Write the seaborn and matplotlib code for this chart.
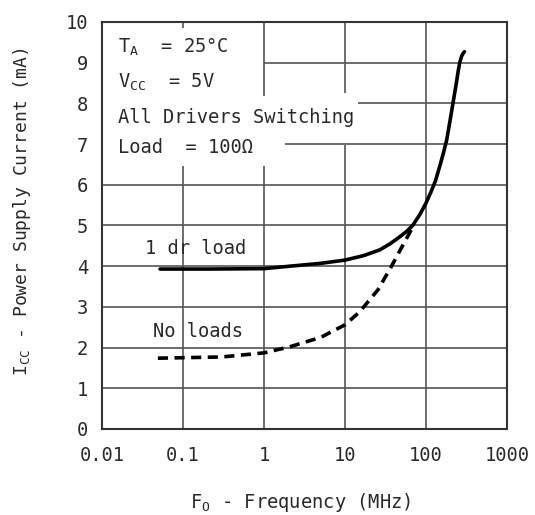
import numpy as np
import pandas as pd
import matplotlib
matplotlib.use("Agg")
import matplotlib.pyplot as plt
import seaborn as sns

# 1 driver loaded
freq_load = [0.052, 0.2, 1, 2.08, 5, 10, 17, 26.8, 36, 47.3, 58, 69, 84, 100,
             115, 131, 150, 165, 180, 197, 215, 237, 250, 262, 275, 290, 299]
icc_load = [3.93, 3.93, 3.94, 4.0, 4.07, 4.15, 4.26, 4.40, 4.55, 4.72, 4.86, 5.01,
            5.27, 5.55, 5.82, 6.1, 6.5, 6.8, 7.1, 7.55, 8.0, 8.5, 8.8, 9.02,
            9.16, 9.24, 9.27]

# no loads
freq_noload = [0.049, 0.3, 1, 2.08, 5, 10, 15.2, 25.5, 37.3, 51.9, 69]
icc_noload = [1.74, 1.77, 1.87, 2.02, 2.25, 2.56, 2.88, 3.42, 3.99, 4.52, 4.97]

x_ticks = [0.01, 0.1, 1, 10, 100, 1000]
x_ticklabels = ["0.01", "0.1", "1", "10", "100", "1000"]
y_ticks = list(range(0, 11))

sns.set_style("white")
plt.rcParams["font.family"] = ["DejaVu Sans Mono"]
plt.rcParams["mathtext.fontset"] = "custom"
plt.rcParams["mathtext.rm"] = "DejaVu Sans Mono"
plt.rcParams["mathtext.it"] = "DejaVu Sans Mono"

fig = plt.figure(figsize=(5.35, 5.15), dpi=100)
ax = fig.add_axes([102 / 535, 86 / 515, 405 / 535, 407 / 515])

grid_kw = dict(color="#555555", linewidth=1.2, zorder=1)
# horizontal grid lines, some broken by the condition text
h_start = {9: 1, 8: 14.4, 7: 1.8}
for y in range(1, 10):
    ax.hlines(y, h_start.get(y, 0.01), 1000, **grid_kw)
# vertical grid lines (gaps where the text block sits)
v_segments = {0.1: [(0, 6.45), (9.85, 10)],
              1: [(0, 6.45), (8.17, 10)],
              10: [(0, 6.98), (8.25, 10)],
              100: [(0, 10)]}
for x, segs in v_segments.items():
    for y0, y1 in segs:
        ax.vlines(x, y0, y1, **grid_kw)

df1 = pd.DataFrame({"f": freq_load, "i": icc_load})
df2 = pd.DataFrame({"f": freq_noload, "i": icc_noload})
sns.lineplot(data=df1, x="f", y="i", ax=ax, color="black", linewidth=2.6,
             sort=False, zorder=3)
sns.lineplot(data=df2, x="f", y="i", ax=ax, color="black", linewidth=2.6,
             sort=False, zorder=3, linestyle=(0, (2.8, 1.8)))

ax.set_xscale("log")
ax.set_xlim(0.01, 1000)
ax.set_ylim(0, 10)
ax.set_xticks(x_ticks)
ax.set_xticklabels(x_ticklabels)
ax.set_yticks(y_ticks)
ax.minorticks_off()
ax.tick_params(axis="both", labelsize=13.5, length=3, width=1, color="#555555",
               colors="#2a2a2a")
ax.tick_params(axis="x", pad=9)
ax.tick_params(axis="y", pad=7)
for s in ax.spines.values():
    s.set_color("#333333")
    s.set_linewidth(1.5)

txt = dict(fontsize=13.5, color="#2a2a2a", zorder=4, va="baseline")
ax.text(0.0158, 9.24, r"T$_\mathregular{A}$  = 25°C", **txt)
ax.text(0.0158, 8.38, r"V$_\mathregular{CC}$  = 5V", **txt)
ax.text(0.0158, 7.52, "All Drivers Switching", **txt)
ax.text(0.0158, 6.78, "Load  = 100Ω", **txt)
ax.text(0.0339, 4.30, "1 dr load", **txt)
ax.text(0.0426, 2.26, "No loads", **txt)

ax.set_xlabel(r"F$_\mathregular{O}$ - Frequency (MHz)", fontsize=13.5,
              color="#2a2a2a")
ax.set_ylabel(r"I$_\mathregular{CC}$ - Power Supply Current (mA)", fontsize=13,
              color="#2a2a2a")
ax.xaxis.set_label_coords(0.49, -0.152)
ax.yaxis.set_label_coords(-0.17, 0.534)

fig.savefig("out.png", dpi=100, facecolor="white")
